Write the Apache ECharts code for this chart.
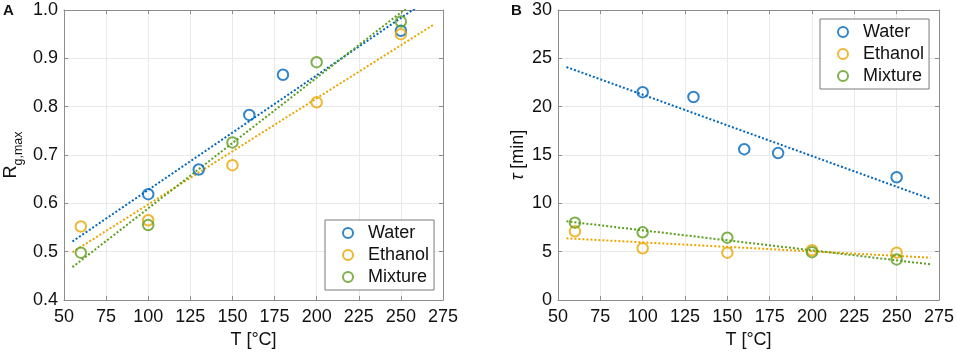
<!DOCTYPE html>
<html><head><meta charset="utf-8">
<script src="https://cdn.jsdelivr.net/npm/echarts@6/dist/echarts.min.js"></script>
<style>html,body{margin:0;padding:0;background:#fff}#c{width:957px;height:354px}</style>
</head><body><div id="c"></div>
<script>
// ---- Data ----
const xTicks = [50, 75, 100, 125, 150, 175, 200, 225, 250, 275];
const seriesNames = ['Water', 'Ethanol', 'Mixture'];
// Panel A: R_g,max vs T
const waterT_A = [100, 130, 160, 180, 250];
const waterR   = [0.619, 0.670, 0.783, 0.866, 0.957];
const ethanolT_A = [60, 100, 150, 200, 250];
const ethanolR   = [0.552, 0.565, 0.679, 0.809, 0.950];
const mixtureT_A = [60, 100, 150, 200, 250];
const mixtureR   = [0.498, 0.555, 0.726, 0.892, 0.976];
// Fit line endpoints
const fitT = [55, 270];
const fitWaterA   = [0.521, 1.031];
const fitEthanolA = [0.499, 0.971];
const fitMixtureA = [0.468, 1.049];
// Panel B: tau vs T
const waterT_B = [100, 130, 160, 180, 250];
const waterTau = [21.5, 21.0, 15.6, 15.2, 12.7];
const ethanolT_B = [60, 100, 150, 200, 250];
const ethanolTau = [7.1, 5.35, 4.9, 5.15, 4.9];
const mixtureT_B = [60, 100, 150, 200, 250];
const mixtureTau = [8.0, 7.0, 6.45, 4.95, 4.2];
const fitWaterB   = [24.1, 10.45];
const fitEthanolB = [6.38, 4.38];
const fitMixtureB = [8.14, 3.69];

const colors = ['#0066BB', '#EBA500', '#5E9E1E'];
const FONT = 'Liberation Sans, Arial, Helvetica, sans-serif';
const TXT = '#111';
const FRAME = '#8c8c8c';

const zip = (xs, ys) => xs.map((x, i) => [x, ys[i]]);

function xAx(grid, pos, show) {
  return {
    type: 'value', gridIndex: grid, position: pos, min: 50, max: 275, interval: 25,
    axisLine: { show: true, onZero: false, lineStyle: { color: FRAME, width: 1 } },
    axisTick: { show: true, inside: true, length: 4, lineStyle: { color: FRAME } },
    axisLabel: { show: show, color: TXT, fontSize: 18, fontFamily: FONT, margin: 8 },
    splitLine: { show: show, lineStyle: { color: '#e9e9e9', width: 1 } },
    name: show ? 'T [°C]' : '', nameLocation: 'middle', nameGap: 30,
    nameTextStyle: { color: TXT, fontSize: 18, fontFamily: FONT }
  };
}
function yAx(grid, pos, show, min, max, interval, fmt, name, rich, gap) {
  return {
    type: 'value', gridIndex: grid, position: pos, min: min, max: max, interval: interval,
    axisLine: { show: true, onZero: false, lineStyle: { color: FRAME, width: 1 } },
    axisTick: { show: true, inside: true, length: 4, lineStyle: { color: FRAME } },
    axisLabel: { show: show, color: TXT, fontSize: 18, fontFamily: FONT, margin: 6, formatter: fmt },
    splitLine: { show: show, lineStyle: { color: '#e9e9e9', width: 1 } },
    name: show ? name : '', nameLocation: 'middle', nameGap: gap,
    nameTextStyle: { color: TXT, fontSize: 18, fontFamily: FONT, rich: rich }
  };
}

function scatter(name, xi, yi, data, ci) {
  return {
    type: 'scatter', name: name, xAxisIndex: xi, yAxisIndex: yi, data: data,
    symbol: 'circle', symbolSize: 10.5, z: 5,
    itemStyle: { color: 'rgba(0,0,0,0)', borderColor: colors[ci], borderWidth: 2 }
  };
}
function fit(xi, yi, vals, ci) {
  return {
    type: 'line', name: 'fit' + ci, xAxisIndex: xi, yAxisIndex: yi, data: zip(fitT, vals),
    symbol: 'none', clip: true, z: 3, silent: true,
    lineStyle: { color: colors[ci], width: 2, type: [2, 2] }
  };
}

function legend(left, top) {
  return {
    orient: 'vertical', left: left, top: top,
    data: seriesNames.map((n, i) => ({
      name: n, icon: 'circle',
      itemStyle: { color: 'rgba(0,0,0,0)', borderColor: colors[i], borderWidth: 2 }
    })),
    itemWidth: 10, itemHeight: 10, itemGap: 4,
    padding: [4, 5, 4, 17],
    borderColor: '#7a7a7a', borderWidth: 1, backgroundColor: '#fff',
    textStyle: { color: TXT, fontSize: 18, fontFamily: FONT, padding: [0, 0, 0, 10], lineHeight: 18 },
    selectedMode: false
  };
}

const chart = echarts.init(document.getElementById('c'), null, { renderer: 'canvas' });
chart.setOption({
  animation: false,
  backgroundColor: '#fff',
  textStyle: { fontFamily: FONT },
  title: [
    { text: 'A', left: 3, top: 3, padding: 0, textStyle: { fontSize: 15, fontWeight: 'bold', color: TXT, fontFamily: FONT } },
    { text: 'B', left: 511, top: 3, padding: 0, textStyle: { fontSize: 15, fontWeight: 'bold', color: TXT, fontFamily: FONT } }
  ],
  grid: [
    { left: 64, top: 10, width: 379, height: 290 },
    { left: 558, top: 10, width: 381, height: 290 }
  ],
  xAxis: [xAx(0, 'bottom', true), xAx(0, 'top', false), xAx(1, 'bottom', true), xAx(1, 'top', false)],
  yAxis: [
    yAx(0, 'left', true, 0.4, 1.0, 0.1, v => v.toFixed(1), '{r|R}{s|g,max}',
        { r: { fontSize: 18, color: TXT, fontFamily: FONT }, s: { fontSize: 12.5, color: TXT, fontFamily: FONT, verticalAlign: 'bottom', padding: [0, 0, -5, 0] } }, 44),
    yAx(0, 'right', false, 0.4, 1.0, 0.1),
    yAx(1, 'left', true, 0, 30, 5, v => String(v), '{t|τ} [min]',
        { t: { fontSize: 18, fontStyle: 'italic', color: TXT, fontFamily: FONT } }, 31),
    yAx(1, 'right', false, 0, 30, 5)
  ],
  legend: [legend(325, 220), legend(820, 19)],
  series: [
    fit(0, 0, fitWaterA, 0), fit(0, 0, fitEthanolA, 1), fit(0, 0, fitMixtureA, 2),
    scatter('Water', 0, 0, zip(waterT_A, waterR), 0),
    scatter('Ethanol', 0, 0, zip(ethanolT_A, ethanolR), 1),
    scatter('Mixture', 0, 0, zip(mixtureT_A, mixtureR), 2),
    fit(2, 2, fitWaterB, 0), fit(2, 2, fitEthanolB, 1), fit(2, 2, fitMixtureB, 2),
    scatter('Water', 2, 2, zip(waterT_B, waterTau), 0),
    scatter('Ethanol', 2, 2, zip(ethanolT_B, ethanolTau), 1),
    scatter('Mixture', 2, 2, zip(mixtureT_B, mixtureTau), 2)
  ]
});
</script></body></html>
